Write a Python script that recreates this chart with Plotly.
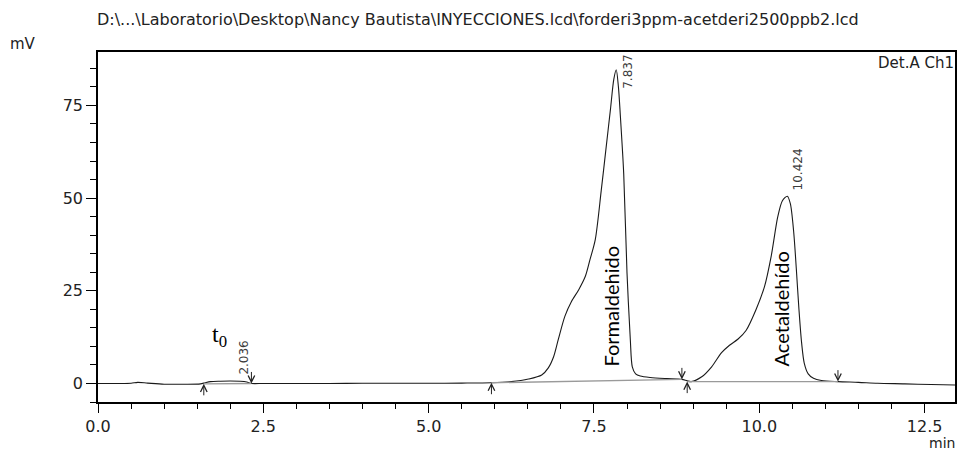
import plotly.graph_objects as go

# ---- data ----
time_min = [0.0, 0.3, 0.5, 0.6, 0.75, 1.0, 1.3, 1.55, 1.62, 1.7, 1.85, 2.0, 2.15, 2.25, 2.32,
            2.5, 3.0, 3.5, 4.0, 4.5, 5.0, 5.5, 5.95, 6.25, 6.51, 6.71, 6.81, 6.89, 6.96, 7.06,
            7.16, 7.27, 7.37, 7.44, 7.52, 7.61, 7.68, 7.75, 7.80, 7.837, 7.87, 7.90, 7.95,
            8.00, 8.05, 8.08, 8.13, 8.2, 8.35, 8.6, 8.83, 8.91, 8.97, 9.13, 9.28, 9.43, 9.55,
            9.68, 9.80, 9.95, 10.08, 10.18, 10.28, 10.35, 10.424, 10.47, 10.52, 10.56, 10.60,
            10.64, 10.68, 10.74, 10.82, 10.94, 11.19, 11.5, 11.79, 12.2, 12.6, 12.96]
signal_mv = [0.0, 0.0, 0.05, 0.3, 0.1, -0.2, -0.2, -0.1, 0.2, 0.5, 0.6, 0.65, 0.6, 0.4, 0.0,
             0.0, 0.0, 0.0, 0.05, 0.05, 0.05, 0.1, 0.2, 0.5, 1.2, 2.3, 4.2, 7.2, 11.8, 18.1,
             22.1, 25.3, 28.9, 33.4, 38.8, 52.0, 63.0, 74.0, 82.0, 84.6, 80.0, 72.0, 56.6,
             29.8, 11.8, 4.5, 2.6, 2.0, 1.6, 1.3, 1.1, 0.7, 0.5, 1.8, 4.5, 8.3, 10.3,
             12.0, 14.3, 19.9, 26.2, 34.3, 45.0, 49.3, 50.5, 48.5, 41.0, 31.0, 20.0,
             11.0, 5.5, 2.6, 1.4, 0.8, 0.5, 0.3, 0.05, -0.1, -0.3, -0.4]

peak_rt = [2.036, 7.837, 10.424]
peak_height = [0.65, 84.6, 50.5]
peak_rt_labels = ["2.036", "7.837", "10.424"]

peak_start = [1.60, 5.95, 8.91]
peak_start_y = [-0.1, 0.2, 0.5]
peak_end = [2.32, 8.83, 11.19]
peak_end_y = [0.0, 1.1, 0.5]

x_tickvals = [0.0, 2.5, 5.0, 7.5, 10.0, 12.5]
y_tickvals = [0, 25, 50, 75]

title_text = "D:\\...\\Laboratorio\\Desktop\\Nancy Bautista\\INYECCIONES.lcd\\forderi3ppm-acetderi2500ppb2.lcd"
compound_names = ["Formaldehido", "Acetaldehído"]

# ---- figure ----
fig = go.Figure()

fig.add_trace(go.Scatter(x=time_min, y=signal_mv, mode="lines",
                         line=dict(color="#1a1a1a", width=1.1, shape="spline", smoothing=0.8),
                         hoverinfo="skip", showlegend=False))

# integration baselines
for xs, ys, xe, ye in zip(peak_start, peak_start_y, peak_end, peak_end_y):
    fig.add_trace(go.Scatter(x=[xs, xe], y=[ys, ye], mode="lines",
                             line=dict(color="#9a9a9a", width=1.4),
                             hoverinfo="skip", showlegend=False))

annotations = []
# start / end arrows
for xs, ys in zip(peak_start, peak_start_y):
    annotations.append(dict(x=xs, y=ys, xref="x", yref="y", text="", showarrow=True,
                            ax=0, ay=13, arrowhead=5, arrowsize=1.3, arrowwidth=1,
                            arrowcolor="#222"))
for xe, ye in zip(peak_end, peak_end_y):
    annotations.append(dict(x=xe, y=ye, xref="x", yref="y", text="", showarrow=True,
                            ax=0, ay=-13, arrowhead=5, arrowsize=1.3, arrowwidth=1,
                            arrowcolor="#222"))

# retention time labels
for rt, h, lab in zip(peak_rt, peak_height, peak_rt_labels):
    annotations.append(dict(x=rt, y=min(h + 1.1, 79.0), xref="x", yref="y", text=lab,
                            showarrow=False, textangle=-90, xanchor="center", yanchor="bottom",
                            xshift=11, font=dict(family="DejaVu Sans", size=12, color="#3c3c3c")))

# compound names
annotations.append(dict(x=7.75, y=20.9, xref="x", yref="y", text=compound_names[0],
                        showarrow=False, textangle=-90,
                        font=dict(family="Lato", size=20, color="black")))
annotations.append(dict(x=10.33, y=20.0, xref="x", yref="y", text=compound_names[1],
                        showarrow=False, textangle=-90,
                        font=dict(family="Lato", size=20, color="black")))
annotations.append(dict(x=1.83, y=12.7, xref="x", yref="y", text="t<sub>0</sub>",
                        showarrow=False,
                        font=dict(family="Liberation Serif", size=24, color="black")))

# texts around the frame
annotations.append(dict(x=1, y=1, xref="paper", yref="paper", text="Det.A Ch1",
                        showarrow=False, xanchor="right", yanchor="top", yshift=0, xshift=1,
                        font=dict(family="DejaVu Sans", size=15, color="#222")))
annotations.append(dict(x=0, y=1, xref="paper", yref="paper", text="mV",
                        showarrow=False, xanchor="left", yanchor="bottom", xshift=-90, yshift=-3,
                        font=dict(family="DejaVu Sans", size=15, color="#222")))
annotations.append(dict(x=1, y=0, xref="paper", yref="paper", text="min",
                        showarrow=False, xanchor="right", yanchor="top", xshift=1, yshift=-32,
                        borderpad=0,
                        font=dict(family="DejaVu Sans", size=14, color="#222")))
annotations.append(dict(x=0, y=1, xref="paper", yref="paper", text=title_text,
                        showarrow=False, xanchor="left", yanchor="bottom", xshift=-3, yshift=21,
                        font=dict(family="DejaVu Sans", size=16, color="#222")))

fig.update_layout(
    width=959, height=451,
    margin=dict(l=98, r=2, t=52, b=49),
    paper_bgcolor="white", plot_bgcolor="white",
    annotations=annotations,
    xaxis=dict(range=[0, 12.96], showgrid=False, zeroline=False,
               showline=True, linecolor="black", linewidth=1.5, mirror=True,
               ticks="outside", ticklen=9, tickwidth=1.2, tickcolor="black",
               tickvals=x_tickvals, ticktext=[f"{v:.1f}" for v in x_tickvals],
               tickfont=dict(family="DejaVu Sans", size=16, color="#222"),
               minor=dict(dtick=0.5, ticks="outside", ticklen=5, tickwidth=1.2, tickcolor="black")),
    yaxis=dict(range=[-5.0, 89.4], showgrid=False, zeroline=False,
               showline=True, linecolor="black", linewidth=1.5, mirror=True,
               ticks="outside", ticklen=10, tickwidth=1.2, tickcolor="black",
               tickvals=y_tickvals, ticktext=[str(v) for v in y_tickvals],
               tickfont=dict(family="DejaVu Sans", size=16, color="#222"),
               minor=dict(dtick=5, ticks="outside", ticklen=6, tickwidth=1.2, tickcolor="black")),
)

fig.write_html("out.html")
